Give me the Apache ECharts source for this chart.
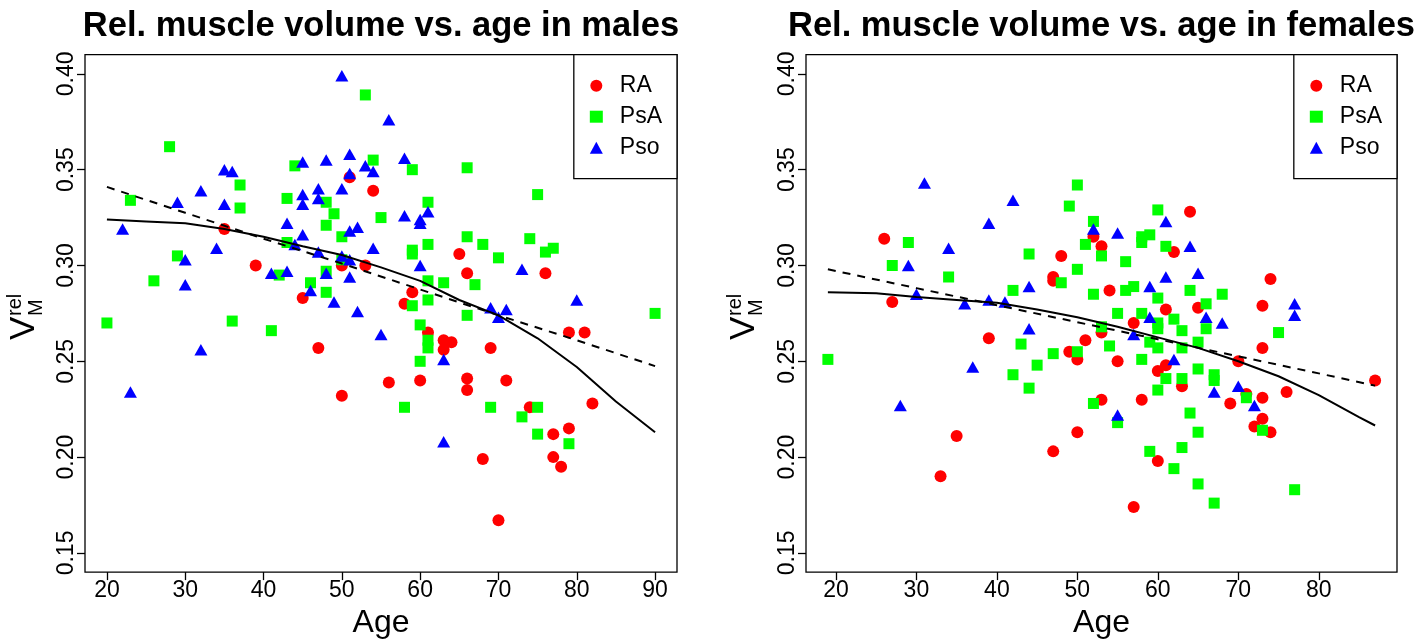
<!DOCTYPE html>
<html>
<head>
<meta charset="utf-8">
<title>Rel. muscle volume vs. age</title>
<script src="https://cdn.jsdelivr.net/npm/echarts@6/dist/echarts.min.js"></script>
<style>
  html, body { margin: 0; padding: 0; background: #fff; }
  #chart { width: 1418px; height: 644px; }
</style>
</head>
<body>
<div id="chart"></div>
<script>
// tick labels
const ageTicksMale = [20, 30, 40, 50, 60, 70, 80, 90]
const ageTicksFemale = [20, 30, 40, 50, 60, 70, 80]
const volTicks = [0.15, 0.20, 0.25, 0.30, 0.35, 0.40]

// males: [age, relative muscle volume]
const maleRA = [
  [51, 0.346], [35, 0.319], [50, 0.300], [39, 0.300], [45, 0.283], [47, 0.257], [50, 0.232],
  [54, 0.339], [65, 0.306], [53, 0.300], [66, 0.296], [76, 0.296], [59, 0.286], [58, 0.280],
  [61, 0.265], [63, 0.261], [64, 0.260], [63, 0.256], [79, 0.265], [81, 0.265], [69, 0.257],
  [56, 0.239], [60, 0.240], [66, 0.241], [66, 0.235], [71, 0.240], [74, 0.226], [82, 0.228],
  [77, 0.212], [79, 0.215], [68, 0.199], [77, 0.200], [78, 0.195], [70, 0.167]
]
const malePsA = [
  [28, 0.362], [37, 0.342], [23, 0.334], [37, 0.330], [44, 0.352], [43, 0.335], [48, 0.333],
  [49, 0.327], [48, 0.321], [50, 0.315], [43, 0.312], [50, 0.303], [29, 0.305], [42, 0.295],
  [26, 0.292], [48, 0.297], [46, 0.291], [48, 0.286], [20, 0.270], [36, 0.271], [41, 0.266],
  [53, 0.389], [54, 0.355], [59, 0.350], [66, 0.351], [75, 0.337], [61, 0.333], [55, 0.325],
  [66, 0.315], [68, 0.311], [74, 0.314], [61, 0.311], [59, 0.308], [59, 0.306], [76, 0.307],
  [77, 0.309], [70, 0.304], [61, 0.292], [63, 0.291], [67, 0.290], [61, 0.282], [59, 0.279],
  [90, 0.275], [66, 0.274], [60, 0.269], [61, 0.261], [61, 0.257], [60, 0.250], [58, 0.226],
  [69, 0.226], [75, 0.226], [73, 0.221], [75, 0.212], [79, 0.207]
]
const malePso = [
  [50, 0.399], [35, 0.350], [36, 0.349], [32, 0.339], [29, 0.333], [35, 0.332], [45, 0.354],
  [48, 0.355], [51, 0.358], [51, 0.348], [45, 0.337], [47, 0.340], [50, 0.340], [45, 0.332],
  [47, 0.335], [43, 0.322], [22, 0.319], [45, 0.316], [51, 0.318], [52, 0.320], [44, 0.311],
  [34, 0.309], [47, 0.307], [50, 0.305], [51, 0.303], [30, 0.303], [41, 0.296], [43, 0.297],
  [30, 0.290], [48, 0.296], [46, 0.287], [49, 0.281], [51, 0.294], [32, 0.256], [23, 0.234],
  [52, 0.276], [56, 0.376], [53, 0.352], [54, 0.349], [58, 0.356], [61, 0.328], [58, 0.326],
  [60, 0.324], [60, 0.322], [54, 0.309], [60, 0.300], [73, 0.298], [80, 0.282], [69, 0.278],
  [71, 0.277], [70, 0.273], [55, 0.264], [63, 0.251], [63, 0.208]
]
const maleFitAge = [20, 25, 30, 35, 40, 45, 50, 55, 60, 65, 70, 75, 80, 85, 90]
const maleFitSolid = [0.324, 0.323, 0.322, 0.319, 0.315, 0.310, 0.3055, 0.299, 0.292, 0.282, 0.274, 0.262, 0.247, 0.229, 0.213]
const maleLinAge = [20, 30, 40, 50, 60, 70, 80, 90]
const maleLinDashed = [0.341, 0.3275, 0.314, 0.301, 0.2875, 0.274, 0.261, 0.2475]

// females: [age, relative muscle volume]
const femaleRA = [
  [26, 0.314], [48, 0.305], [47, 0.294], [47, 0.292], [27, 0.281], [39, 0.262], [35, 0.211],
  [47, 0.203], [33, 0.190], [64, 0.328], [52, 0.315], [53, 0.310], [62, 0.307], [54, 0.287],
  [74, 0.293], [61, 0.277], [65, 0.278], [73, 0.279], [57, 0.270], [53, 0.265], [51, 0.261],
  [73, 0.257], [49, 0.255], [50, 0.251], [55, 0.250], [70, 0.250], [60, 0.245], [61, 0.248],
  [63, 0.237], [76, 0.234], [53, 0.230], [58, 0.230], [69, 0.228], [71, 0.233], [73, 0.231],
  [73, 0.220], [72, 0.216], [74, 0.213], [50, 0.213], [60, 0.198], [57, 0.174], [87, 0.240]
]
const femalePsA = [
  [29, 0.312], [44, 0.306], [27, 0.300], [34, 0.294], [48, 0.291], [42, 0.287], [43, 0.259],
  [47, 0.254], [19, 0.251], [45, 0.248], [42, 0.243], [44, 0.236], [50, 0.342], [49, 0.331],
  [60, 0.329], [52, 0.323], [58, 0.315], [59, 0.316], [58, 0.312], [51, 0.311], [61, 0.310],
  [53, 0.305], [56, 0.302], [50, 0.298], [52, 0.285], [56, 0.287], [57, 0.289], [64, 0.287],
  [68, 0.285], [60, 0.283], [66, 0.280], [55, 0.275], [58, 0.275], [60, 0.270], [62, 0.272],
  [60, 0.267], [63, 0.266], [75, 0.265], [53, 0.268], [66, 0.267], [59, 0.260], [65, 0.260],
  [54, 0.258], [60, 0.257], [63, 0.257], [50, 0.255], [58, 0.251], [65, 0.246], [61, 0.241],
  [63, 0.241], [67, 0.243], [67, 0.240], [60, 0.235], [52, 0.228], [71, 0.231], [73, 0.214],
  [55, 0.218], [64, 0.223], [65, 0.213], [63, 0.205], [59, 0.203], [62, 0.194], [65, 0.186],
  [77, 0.183], [67, 0.176]
]
const femalePso = [
  [31, 0.343], [42, 0.334], [39, 0.322], [34, 0.309], [29, 0.300], [44, 0.289], [30, 0.285],
  [36, 0.280], [39, 0.282], [41, 0.281], [44, 0.267], [37, 0.247], [28, 0.227], [52, 0.319],
  [61, 0.323], [55, 0.317], [64, 0.310], [65, 0.296], [61, 0.294], [59, 0.289], [77, 0.280],
  [77, 0.274], [59, 0.273], [66, 0.273], [68, 0.270], [57, 0.264], [62, 0.251], [67, 0.234],
  [70, 0.237], [72, 0.227], [55, 0.222]
]
const femaleFitAge = [19, 25, 30, 35, 40, 45, 50, 55, 60, 65, 70, 75, 80, 85, 87]
const femaleFitSolid = [0.286, 0.2855, 0.2835, 0.282, 0.2805, 0.277, 0.273, 0.268, 0.2625, 0.257, 0.250, 0.2422, 0.2324, 0.2209, 0.2165]
const femaleLinAge = [19, 30, 40, 50, 60, 70, 80, 87]
const femaleLinDashed = [0.298, 0.2882, 0.2793, 0.2704, 0.2615, 0.2526, 0.2437, 0.2373]

const FONT = '"Liberation Sans", Arial, Helvetica, sans-serif'
const W = 1418

const panels = [
  {
    title: 'Rel. muscle volume vs. age in males',
    left: 85, width: 592, xMin: 17.2, xMax: 92.8, ticks: ageTicksMale, yTitleX: 37,
    ra: maleRA, psa: malePsA, pso: malePso,
    fitAge: maleFitAge, solid: maleFitSolid, linAge: maleLinAge, dashed: maleLinDashed
  },
  {
    title: 'Rel. muscle volume vs. age in females',
    left: 806, width: 591, xMin: 16.28, xMax: 89.72, ticks: ageTicksFemale, yTitleX: 757,
    ra: femaleRA, psa: femalePsA, pso: femalePso,
    fitAge: femaleFitAge, solid: femaleFitSolid, linAge: femaleLinAge, dashed: femaleLinDashed
  }
]

const zip = (xs, ys) => xs.map((x, i) => [x, ys[i]])

const gridTop = 54.7
const gridHeight = 528.1

function yTitle(x) {
  return {
    type: 'group', x: x, y: 340, rotation: Math.PI / 2, silent: true,
    children: [
      { type: 'text', x: 0, y: -12.5, style: { text: 'V', fontSize: 35, fontFamily: FONT, fill: '#000', align: 'left', verticalAlign: 'middle' } },
      { type: 'text', x: 24, y: -22, style: { text: 'rel', fontSize: 20, fontFamily: FONT, fill: '#000', align: 'left', verticalAlign: 'middle' } },
      { type: 'text', x: 24, y: -1, style: { text: 'M', fontSize: 20, fontFamily: FONT, fill: '#000', align: 'left', verticalAlign: 'middle' } }
    ]
  }
}

const option = {
  backgroundColor: '#fff',
  animation: false,
  title: panels.map(p => ({
    text: p.title, left: p.left + p.width / 2, top: 9, padding: 0, textAlign: 'center',
    textStyle: { fontSize: 34.5, fontWeight: 'bold', color: '#000', fontFamily: FONT }
  })),
  legend: panels.map(p => ({
    data: ['RA', 'PsA', 'Pso'],
    orient: 'vertical',
    right: W - (p.left + p.width),
    top: gridTop,
    padding: [18, 15, 18, 16],
    itemGap: 5,
    itemWidth: 13,
    itemHeight: 12,
    borderColor: '#000',
    borderWidth: 1.3,
    borderRadius: 0,
    backgroundColor: '#fff',
    selectedMode: false,
    textStyle: { fontSize: 23, lineHeight: 26, color: '#000', fontFamily: FONT, padding: [0, 0, 0, 12] }
  })),
  grid: panels.map(p => ({
    left: p.left, top: gridTop, width: p.width, height: gridHeight,
    show: true, borderColor: '#000', borderWidth: 1.3, backgroundColor: 'transparent'
  })),
  xAxis: panels.map((p, i) => ({
    gridIndex: i, type: 'value', min: p.xMin, max: p.xMax,
    axisLine: { show: false, onZero: false },
    splitLine: { show: false },
    axisTick: { show: true, length: 8, customValues: p.ticks, lineStyle: { color: '#000', width: 1.3 } },
    axisLabel: { customValues: p.ticks, fontSize: 23, color: '#000', margin: 7, fontFamily: FONT },
    name: 'Age', nameLocation: 'middle', nameGap: 23,
    nameTextStyle: { fontSize: 32, color: '#000', fontFamily: FONT }
  })),
  yAxis: panels.map((p, i) => ({
    gridIndex: i, type: 'value', min: 0.14, max: 0.41,
    axisLine: { show: false, onZero: false },
    splitLine: { show: false },
    axisTick: { show: true, length: 8, customValues: volTicks, lineStyle: { color: '#000', width: 1.3 } },
    axisLabel: {
      customValues: volTicks, rotate: 90, fontSize: 23, color: '#000', margin: 7, fontFamily: FONT,
      formatter: v => v.toFixed(2)
    }
  })),
  graphic: panels.map(p => yTitle(p.yTitleX)),
  series: []
}

panels.forEach((p, i) => {
  const common = { xAxisIndex: i, yAxisIndex: i, silent: true, z: 2, emphasis: { disabled: true } }
  option.series.push(
    Object.assign({ type: 'scatter', name: 'RA', symbol: 'circle', symbolSize: 12, itemStyle: { color: '#ff0000', opacity: 1 }, data: p.ra }, common),
    Object.assign({ type: 'scatter', name: 'PsA', symbol: 'rect', symbolSize: 11, itemStyle: { color: '#00ff00', opacity: 1 }, data: p.psa }, common),
    Object.assign({ type: 'scatter', name: 'Pso', symbol: 'triangle', symbolSize: [13, 11.5], itemStyle: { color: '#0000ff', opacity: 1 }, data: p.pso }, common),
    { type: 'line', xAxisIndex: i, yAxisIndex: i, silent: true, z: 3, symbol: 'none', data: zip(p.fitAge, p.solid), lineStyle: { color: '#000', width: 2 } },
    { type: 'line', xAxisIndex: i, yAxisIndex: i, silent: true, z: 3, symbol: 'none', data: zip(p.linAge, p.dashed), lineStyle: { color: '#000', width: 2, type: [8, 7] } }
  )
})

const chart = echarts.init(document.getElementById('chart'))
chart.setOption(option)
window.addEventListener('resize', () => chart.resize())
</script>
</body>
</html>
